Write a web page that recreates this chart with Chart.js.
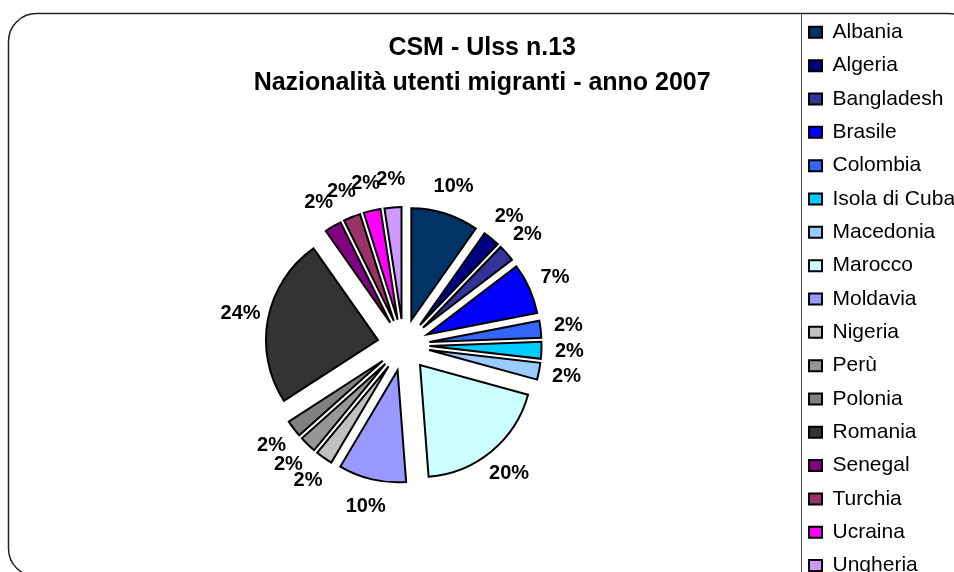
<!DOCTYPE html>
<html>
<head>
<meta charset="utf-8">
<title>CSM - Ulss n.13</title>
<script src="https://cdn.jsdelivr.net/npm/chart.js@4.4.1/dist/chart.umd.min.js"></script>
<style>
  html, body { margin: 0; padding: 0; background: #fff; overflow: hidden; }
  #wrap { width: 954px; height: 572px; overflow: hidden; }
</style>
</head>
<body>
<div id="wrap"><canvas id="nazionalitaChart" width="954" height="640"></canvas></div>
<script>
const nazioni = ['Albania', 'Algeria', 'Bangladesh', 'Brasile', 'Colombia', 'Isola di Cuba', 'Macedonia',
    'Marocco', 'Moldavia', 'Nigeria', 'Perù', 'Polonia', 'Romania', 'Senegal', 'Turchia', 'Ucraina', 'Ungheria'];
// numero utenti per nazionalità (41 in totale -> 10%, 2%, 7%, 20%, 24% ...)
const utenti = [4, 1, 1, 3, 1, 1, 1, 8, 4, 1, 1, 1, 10, 1, 1, 1, 1];
const colori = ['#003366', '#000080', '#333399', '#0000FF', '#3366FF', '#00CCFF', '#99CCFF', '#CCFFFF',
    '#9999FF', '#C0C0C0', '#969696', '#808080', '#333333', '#800080', '#993366', '#FF00FF', '#CC99FF'];
const titolo = ['CSM - Ulss n.13', 'Nazionalità utenti migranti - anno 2007'];

const FONT = '"Liberation Sans", Arial, sans-serif';
const EXPLODE = 26;

// rounded frame around the whole chart + left edge of the legend box
const framePlugin = {
    id: 'cornice',
    beforeDraw(chart) {
        const ctx = chart.ctx;
        const x = 8.5, y = 13.5, w = 968, h = 563, r = 28;
        ctx.save();
        ctx.strokeStyle = '#222';
        ctx.lineWidth = 1.5;
        ctx.beginPath();
        ctx.moveTo(x + r, y);
        ctx.arcTo(x + w, y, x + w, y + h, r);
        ctx.arcTo(x + w, y + h, x, y + h, r);
        ctx.arcTo(x, y + h, x, y, r);
        ctx.arcTo(x, y, x + w, y, r);
        ctx.closePath();
        ctx.stroke();

        const lx = Math.round(chart.legend.left) + 4.5;
        ctx.strokeStyle = '#555';
        ctx.lineWidth = 1;
        ctx.beginPath();
        ctx.moveTo(lx, y);
        ctx.lineTo(lx, chart.height);
        ctx.stroke();
        ctx.restore();
    }
};

// pull every slice out from the centre (exploded pie)
const explodePlugin = {
    id: 'esploso',
    afterDatasetsUpdate(chart) {
        chart.getDatasetMeta(0).data.forEach(arc => {
            const mid = (arc.startAngle + arc.endAngle) / 2;
            arc.x += Math.cos(mid) * EXPLODE;
            arc.y += Math.sin(mid) * EXPLODE;
        });
    }
};

// percentage labels outside the slices
const percentPlugin = {
    id: 'percentuali',
    afterDatasetsDraw(chart) {
        const ctx = chart.ctx;
        const total = utenti.reduce((a, b) => a + b, 0);
        ctx.save();
        ctx.font = 'bold 20px ' + FONT;
        ctx.fillStyle = '#000';
        ctx.textAlign = 'center';
        ctx.textBaseline = 'middle';
        chart.getDatasetMeta(0).data.forEach((arc, i) => {
            const mid = (arc.startAngle + arc.endAngle) / 2;
            const dist = arc.outerRadius + 28;
            ctx.fillText(Math.round(utenti[i] / total * 100) + '%',
                arc.x + Math.cos(mid) * dist, arc.y + Math.sin(mid) * dist);
        });
        ctx.restore();
    }
};

new Chart(document.getElementById('nazionalitaChart'), {
    type: 'pie',
    data: {
        labels: nazioni,
        datasets: [{
            data: utenti,
            backgroundColor: colori,
            borderColor: '#000',
            borderWidth: 2,
            borderJoinStyle: 'miter',
            radius: 112
        }]
    },
    options: {
        responsive: false,
        animation: false,
        devicePixelRatio: 1,
        layout: {
            padding: { left: 10.33, right: 0, top: 9.5, bottom: 46.5 }
        },
        plugins: {
            title: {
                display: true,
                text: titolo,
                color: '#000',
                font: { family: FONT, size: 25, weight: 'bold', lineHeight: 35 / 25 },
                padding: { top: 21, bottom: -4 }
            },
            legend: {
                position: 'right',
                align: 'start',
                maxWidth: 157.33,
                labels: {
                    color: '#000',
                    font: { family: FONT, size: 21 },
                    boxWidth: 13,
                    boxHeight: 11,
                    padding: 12.33
                }
            },
            tooltip: { enabled: false }
        }
    },
    plugins: [framePlugin, explodePlugin, percentPlugin]
});
</script>
</body>
</html>
